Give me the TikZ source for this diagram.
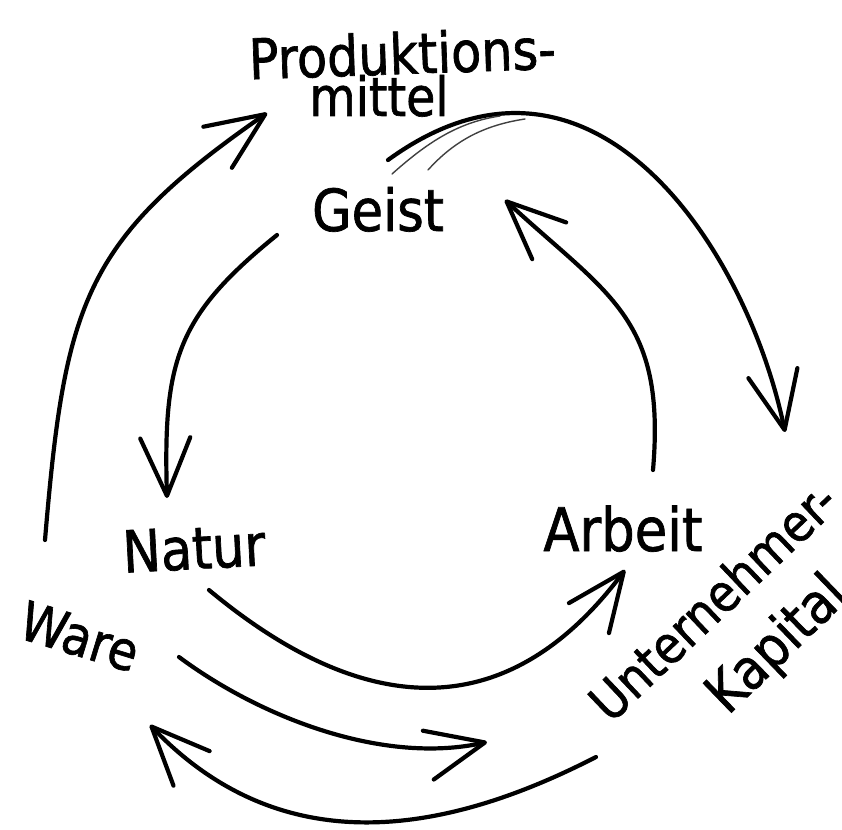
\documentclass[tikz,border=0pt]{standalone}
\usepackage{fontspec}
\setmainfont{DejaVu Sans}[FakeStretch=0.88, FakeBold=1.2]
\usetikzlibrary{arrows.meta}

\tikzset{
	pfeil/.style={line width=4.2pt, line cap=round, -{Straight Barb[length=58pt,width=50pt,round]}},
	strich/.style={line width=1.4pt, line cap=round, black!75},
	wort/.style={anchor=base, inner sep=0pt, font=\fontsize{#1}{#1}\selectfont},
	wort/.default=54
}

\begin{document}
\begin{tikzpicture}[x=1pt,y=-1pt]
	\useasboundingbox (0,0) rectangle (842,829);
	% Begriffe
	\node[wort=56, rotate=2] (prod) at (403,74) {Produktions-};
	\node[wort] (mittel) at (379,116) {mittel};
	\node[wort=58] (geist) at (378,231) {Geist};
	\node[wort=58, rotate=3] (natur) at (195,569) {Natur};
	\node[wort=60] (arbeit) at (623,551) {Arbeit};
	\node[wort, rotate=-17] (ware) at (74,655) {Ware};
	\node[wort=52, rotate=43.5] (unternehmer) at (726,615) {Unternehmer-};
	\node[wort=56, rotate=44] (kapital) at (789,657) {Kapital};
	% Enden der Pfeile
	\coordinate (wareOben) at (45,540);
	\coordinate (prodLinks) at (267,113);
	\coordinate (geistLinks) at (277,235);
	\coordinate (naturOben) at (167,498);
	\coordinate (naturUnten) at (209,590);
	\coordinate (arbeitUnten) at (625,570);
	\coordinate (wareRechts) at (179,657);
	\coordinate (kapMitte) at (487,742);
	\coordinate (kapUnten) at (596,757);
	\coordinate (wareUnten) at (150,725);
	\coordinate (prodRechts) at (388,160);
	\coordinate (kapOben) at (785,432);
	\coordinate (arbeitOben) at (653,470);
	\coordinate (geistRechts) at (505,200);
	% Pfeile
	\draw[pfeil] (wareOben) .. controls (65,302) and (84,240) .. (prodLinks);
	\draw[pfeil] (geistLinks) .. controls (177,316) and (163,360) .. (naturOben);
	\draw[pfeil] (naturUnten) .. controls (346,704) and (496,742) .. (arbeitUnten);
	\draw[pfeil] (wareRechts) .. controls (261,718) and (384,765) .. (kapMitte);
	\draw[pfeil] (kapUnten) .. controls (452,831) and (286,867) .. (wareUnten);
	\draw[pfeil] (prodRechts) .. controls (594,10) and (748,252) .. (kapOben);
	\draw[pfeil] (arbeitOben) .. controls (666,318) and (609,296) .. (geistRechts);
	% Schraffur am Anfang des Bogens
	\draw[strich] (392,174) .. controls (430,140) and (460,122) .. (500,116);
	\draw[strich] (428,170) .. controls (455,140) and (485,125) .. (525,119);
\end{tikzpicture}
\end{document}
